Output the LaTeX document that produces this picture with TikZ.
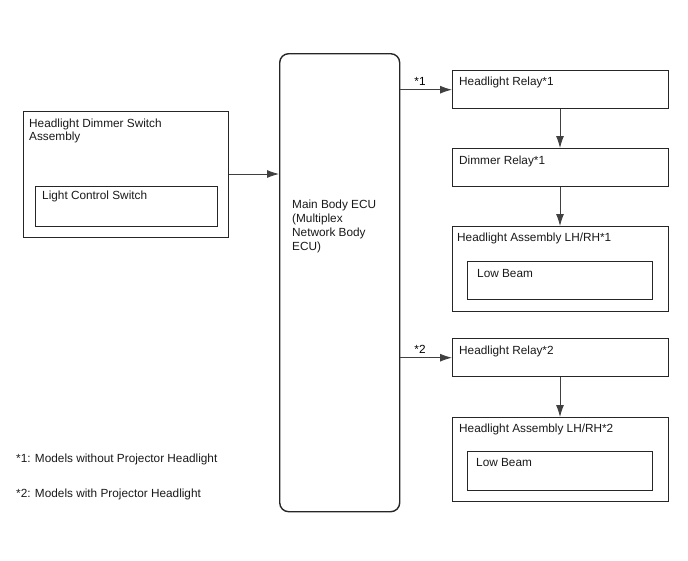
\documentclass[tikz,border=0pt]{standalone}
\usepackage{fontspec}
\setmainfont{Liberation Sans}
\usetikzlibrary{arrows.meta}
\begin{document}
\begin{tikzpicture}[x=1pt,y=-1pt,
  box/.style={draw=black!85, line width=1.4pt, anchor=north west, inner sep=0pt},
  txt/.style={anchor=north west, inner sep=0pt, font=\fontsize{11.8}{14}\selectfont, align=left, text=black!90},
  conn/.style={draw=black!75, line width=0.9pt, -{Latex[length=12pt,width=8pt]}}]
\useasboundingbox (0,0) rectangle (688,560);
% Headlight Dimmer Switch Assembly
\node[box, minimum width=205pt, minimum height=126pt] (hdsa) at (23,111) {};
\node[txt, font=\fontsize{11.8}{13.2}\selectfont] (hdsat) at (29,119) {Headlight Dimmer Switch\\Assembly};
\node[box, minimum width=182pt, minimum height=40pt] (lcs) at (35,186) {};
\node[txt] (lcst) at (42,191) {Light Control Switch};
% Main Body ECU
\node[box, rounded corners=9pt, minimum width=120pt, minimum height=458pt] (ecu) at (279,53) {};
\node[txt] (ecut) at (292,200) {Main Body ECU\\(Multiplex\\Network Body\\ECU)};
% Right column
\node[box, minimum width=216pt, minimum height=38pt] (hr1) at (452,70) {};
\node[txt] (hr1t) at (459,77) {Headlight Relay*1};
\node[box, minimum width=216pt, minimum height=38pt] (dr1) at (452,148) {};
\node[txt] (dr1t) at (459,156) {Dimmer Relay*1};
\node[box, minimum width=216pt, minimum height=85pt] (ha1) at (452,226) {};
\node[txt] (ha1t) at (457,233) {Headlight Assembly LH/RH*1};
\node[box, minimum width=185pt, minimum height=38pt] (lb1) at (467,261) {};
\node[txt] (lb1t) at (477,269) {Low Beam};
\node[box, minimum width=216pt, minimum height=38pt] (hr2) at (452,338) {};
\node[txt] (hr2t) at (459,346) {Headlight Relay*2};
\node[box, minimum width=216pt, minimum height=84pt] (ha2) at (452,417) {};
\node[txt] (ha2t) at (459,424) {Headlight Assembly LH/RH*2};
\node[box, minimum width=185pt, minimum height=39pt] (lb2) at (467,451) {};
\node[txt] (lb2t) at (476,458) {Low Beam};
% connectors
\draw[conn] (hdsa.east |- 0,174) -- (ecu.west |- 0,174);
\draw[conn] (ecu.east |- hr1.west) -- (hr1.west) node[pos=0.38, above=4pt, inner sep=0pt, font=\fontsize{11.8}{13}\selectfont] (s1) {*1};
\draw[conn] (ecu.east |- hr2.west) -- (hr2.west) node[pos=0.38, above=4pt, inner sep=0pt, font=\fontsize{11.8}{13}\selectfont] (s2) {*2};
\draw[conn] (hr1.south -| 560,0) -- (dr1.north -| 560,0);
\draw[conn] (dr1.south -| 560,0) -- (ha1.north -| 560,0);
\draw[conn] (hr2.south -| 560,0) -- (ha2.north -| 560,0);
% legend
\node[txt] (leg1) at (16,454) {*1: Models without Projector Headlight};
\node[txt] (leg2) at (16,489) {*2: Models with Projector Headlight};
\end{tikzpicture}
\end{document}
